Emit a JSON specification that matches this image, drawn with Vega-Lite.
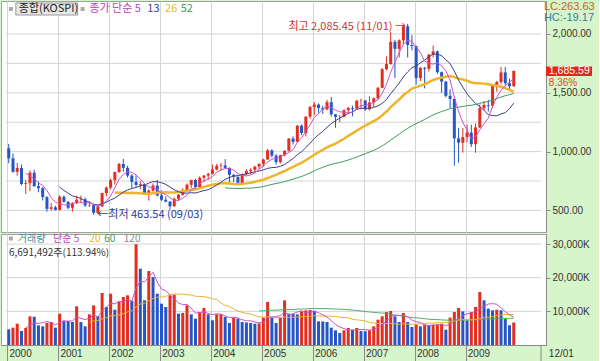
{
"$schema": "https://vega.github.io/schema/vega-lite/v6.json",
"background": "#d7f5cb",
"padding": {"left": 0, "top": 0, "right": 3, "bottom": 0},
"spacing": 0,
"config": {
  "view": {"fill": "white", "stroke": "#a0a0a0"},
  "axis": {"gridColor": "#d4d4d4", "gridOpacity": 1, "labelFont": "Liberation Sans", "labelFontSize": 10, "labelColor": "#333", "domainColor": "#8a8a8a", "tickColor": "#8a8a8a"},
  "text": {"font": "Noto Sans CJK KR"}
},
"datasets": {"k": [
{"i":0,"o":1028,"h":1066,"l":901,"c":943,"v":4660},
{"i":1,"o":943,"h":985,"l":820,"c":828,"v":5150},
{"i":2,"o":830,"h":905,"l":795,"c":861,"v":6340},
{"i":3,"o":861,"h":891,"l":714,"c":725,"v":4160},
{"i":4,"o":725,"h":760,"l":640,"c":732,"v":5050},
{"i":5,"o":732,"h":840,"l":665,"c":821,"v":8520},
{"i":6,"o":821,"h":846,"l":701,"c":706,"v":8400},
{"i":7,"o":706,"h":745,"l":655,"c":689,"v":5850},
{"i":8,"o":689,"h":700,"l":585,"c":613,"v":5550},
{"i":9,"o":613,"h":622,"l":490,"c":514,"v":6540},
{"i":10,"o":514,"h":565,"l":500,"c":527,"v":6840},
{"i":11,"o":527,"h":540,"l":500,"c":505,"v":5150},
{"i":12,"o":505,"h":630,"l":500,"c":616,"v":9320},
{"i":13,"o":616,"h":627,"l":565,"c":573,"v":7300},
{"i":14,"o":573,"h":580,"l":510,"c":523,"v":7100},
{"i":15,"o":523,"h":570,"l":490,"c":561,"v":6840},
{"i":16,"o":561,"h":625,"l":555,"c":591,"v":11500},
{"i":17,"o":591,"h":626,"l":570,"c":595,"v":6840},
{"i":18,"o":595,"h":610,"l":530,"c":542,"v":5550},
{"i":19,"o":542,"h":580,"l":530,"c":545,"v":9120},
{"i":20,"o":545,"h":550,"l":463.54,"c":480,"v":11790},
{"i":21,"o":480,"h":540,"l":470,"c":535,"v":8520},
{"i":22,"o":535,"h":650,"l":530,"c":648,"v":15460},
{"i":23,"o":648,"h":705,"l":620,"c":694,"v":11300},
{"i":24,"o":694,"h":770,"l":680,"c":758,"v":15260},
{"i":25,"o":758,"h":830,"l":720,"c":826,"v":10500},
{"i":26,"o":826,"h":905,"l":820,"c":895,"v":12780},
{"i":27,"o":895,"h":937.6,"l":830,"c":862,"v":14270},
{"i":28,"o":862,"h":880,"l":780,"c":796,"v":14770},
{"i":29,"o":796,"h":810,"l":690,"c":743,"v":13080},
{"i":30,"o":743,"h":800,"l":700,"c":717,"v":29940},
{"i":31,"o":717,"h":750,"l":680,"c":724,"v":22690},
{"i":32,"o":724,"h":727,"l":640,"c":646,"v":13280},
{"i":33,"o":646,"h":680,"l":584,"c":668,"v":22000},
{"i":34,"o":668,"h":730,"l":660,"c":712,"v":20220},
{"i":35,"o":712,"h":760,"l":620,"c":628,"v":15260},
{"i":36,"o":628,"h":670,"l":580,"c":591,"v":12290},
{"i":37,"o":591,"h":620,"l":570,"c":575,"v":11300},
{"i":38,"o":575,"h":580,"l":512,"c":536,"v":14770},
{"i":39,"o":536,"h":610,"l":530,"c":599,"v":14960},
{"i":40,"o":599,"h":640,"l":580,"c":633,"v":9320},
{"i":41,"o":633,"h":690,"l":625,"c":670,"v":9510},
{"i":42,"o":670,"h":730,"l":665,"c":718,"v":11790},
{"i":43,"o":718,"h":760,"l":690,"c":759,"v":9120},
{"i":44,"o":759,"h":770,"l":680,"c":698,"v":7830},
{"i":45,"o":698,"h":790,"l":690,"c":778,"v":9810},
{"i":46,"o":778,"h":800,"l":745,"c":797,"v":11000},
{"i":47,"o":797,"h":820,"l":760,"c":811,"v":9120},
{"i":48,"o":811,"h":890,"l":805,"c":848,"v":7340},
{"i":49,"o":848,"h":895,"l":840,"c":880,"v":9120},
{"i":50,"o":880,"h":905,"l":840,"c":883,"v":9200},
{"i":51,"o":883,"h":936,"l":860,"c":862,"v":8320},
{"i":52,"o":862,"h":865,"l":730,"c":803,"v":6540},
{"i":53,"o":803,"h":810,"l":740,"c":786,"v":8130},
{"i":54,"o":786,"h":790,"l":720,"c":735,"v":7830},
{"i":55,"o":735,"h":815,"l":730,"c":809,"v":6840},
{"i":56,"o":809,"h":850,"l":800,"c":835,"v":6700},
{"i":57,"o":835,"h":860,"l":810,"c":845,"v":6540},
{"i":58,"o":845,"h":880,"l":830,"c":872,"v":6340},
{"i":59,"o":872,"h":900,"l":850,"c":896,"v":6450},
{"i":60,"o":896,"h":940,"l":870,"c":933,"v":8130},
{"i":61,"o":933,"h":1022,"l":930,"c":1011,"v":12780},
{"i":62,"o":1011,"h":1020,"l":950,"c":966,"v":8130},
{"i":63,"o":966,"h":980,"l":890,"c":911,"v":6540},
{"i":64,"o":911,"h":975,"l":900,"c":970,"v":8130},
{"i":65,"o":970,"h":1010,"l":960,"c":1008,"v":13280},
{"i":66,"o":1008,"h":1115,"l":1000,"c":1111,"v":9300},
{"i":67,"o":1111,"h":1130,"l":1060,"c":1083,"v":9200},
{"i":68,"o":1083,"h":1225,"l":1080,"c":1221,"v":9100},
{"i":69,"o":1221,"h":1230,"l":1140,"c":1158,"v":10000},
{"i":70,"o":1158,"h":1300,"l":1130,"c":1297,"v":10300},
{"i":71,"o":1297,"h":1390,"l":1280,"c":1379,"v":10400},
{"i":72,"o":1379,"h":1421,"l":1310,"c":1400,"v":10200},
{"i":73,"o":1400,"h":1410,"l":1330,"c":1371,"v":7040},
{"i":74,"o":1371,"h":1390,"l":1320,"c":1359,"v":7000},
{"i":75,"o":1359,"h":1440,"l":1350,"c":1420,"v":6840},
{"i":76,"o":1420,"h":1465,"l":1300,"c":1317,"v":5150},
{"i":77,"o":1317,"h":1320,"l":1203,"c":1295,"v":4360},
{"i":78,"o":1295,"h":1310,"l":1250,"c":1297,"v":3570},
{"i":79,"o":1297,"h":1360,"l":1290,"c":1352,"v":4360},
{"i":80,"o":1352,"h":1380,"l":1320,"c":1371,"v":5050},
{"i":81,"o":1371,"h":1390,"l":1300,"c":1364,"v":4560},
{"i":82,"o":1364,"h":1440,"l":1355,"c":1432,"v":5050},
{"i":83,"o":1432,"h":1450,"l":1360,"c":1434,"v":4160},
{"i":84,"o":1434,"h":1440,"l":1345,"c":1360,"v":4100},
{"i":85,"o":1360,"h":1470,"l":1350,"c":1417,"v":4360},
{"i":86,"o":1417,"h":1460,"l":1380,"c":1453,"v":5550},
{"i":87,"o":1453,"h":1550,"l":1440,"c":1542,"v":7530},
{"i":88,"o":1542,"h":1710,"l":1540,"c":1700,"v":8520},
{"i":89,"o":1700,"h":1810,"l":1690,"c":1744,"v":9810},
{"i":90,"o":1744,"h":2015,"l":1740,"c":1933,"v":10100},
{"i":91,"o":1933,"h":1950,"l":1626,"c":1873,"v":8520},
{"i":92,"o":1873,"h":1955,"l":1800,"c":1946,"v":6840},
{"i":93,"o":1946,"h":2065,"l":1910,"c":2065,"v":9510},
{"i":94,"o":2065,"h":2085.45,"l":1800,"c":1906,"v":6840},
{"i":95,"o":1906,"h":1990,"l":1860,"c":1897,"v":5350},
{"i":96,"o":1897,"h":1900,"l":1570,"c":1625,"v":6140},
{"i":97,"o":1625,"h":1720,"l":1600,"c":1712,"v":5550},
{"i":98,"o":1712,"h":1720,"l":1537,"c":1704,"v":6040},
{"i":99,"o":1704,"h":1830,"l":1680,"c":1825,"v":5850},
{"i":100,"o":1825,"h":1901,"l":1800,"c":1852,"v":6040},
{"i":101,"o":1852,"h":1860,"l":1660,"c":1675,"v":6140},
{"i":102,"o":1675,"h":1680,"l":1500,"c":1595,"v":6340},
{"i":103,"o":1595,"h":1600,"l":1460,"c":1474,"v":4560},
{"i":104,"o":1474,"h":1530,"l":1370,"c":1448,"v":8130},
{"i":105,"o":1448,"h":1460,"l":880,"c":1113,"v":9810},
{"i":106,"o":1113,"h":1200,"l":905,"c":1076,"v":11000},
{"i":107,"o":1076,"h":1200,"l":991,"c":1124,"v":10000},
{"i":108,"o":1124,"h":1230,"l":1080,"c":1162,"v":7340},
{"i":109,"o":1162,"h":1230,"l":1040,"c":1063,"v":9810},
{"i":110,"o":1063,"h":1240,"l":990,"c":1206,"v":11300},
{"i":111,"o":1206,"h":1400,"l":1200,"c":1369,"v":15760},
{"i":112,"o":1369,"h":1430,"l":1350,"c":1396,"v":13280},
{"i":113,"o":1396,"h":1440,"l":1340,"c":1390,"v":10800},
{"i":114,"o":1390,"h":1560,"l":1370,"c":1557,"v":10300},
{"i":115,"o":1557,"h":1600,"l":1510,"c":1592,"v":10500},
{"i":116,"o":1592,"h":1720,"l":1570,"c":1673,"v":10300},
{"i":117,"o":1673,"h":1720,"l":1560,"c":1581,"v":7830},
{"i":118,"o":1581,"h":1620,"l":1520,"c":1556,"v":5873},
{"i":119,"o":1556,"h":1690,"l":1550,"c":1685.59,"v":6691}
]},
"vconcat": [
{
  "width": 545, "height": 231,
  "data": {"name": "k"},
  "encoding": {"x": {"field": "i", "type": "quantitative", "scale": {"domain": [-0.648, 125.42], "nice": false, "zero": false},
    "axis": {"values": [-0.3, 11.7, 23.7, 35.7, 47.7, 59.7, 71.7, 83.7, 95.7, 107.7], "labels": false, "ticks": false, "domain": false, "grid": true, "title": null, "minExtent": 0, "maxExtent": 0, "labelPadding": 0}}},
  "layer": [
    {"transform": [{"filter": "datum.i == 119"}], "mark": {"type": "rule", "color": "#d4d4d4", "strokeWidth": 1}, "encoding": {"x": {"datum": -0.648, "type": "quantitative"}, "x2": {"datum": 125.42}, "y": {"datum": 500, "type": "quantitative"}, "y2": {"datum": 500}}},
    {"transform": [{"filter": "datum.i == 119"}], "mark": {"type": "rule", "color": "#d4d4d4", "strokeWidth": 1}, "encoding": {"x": {"datum": -0.648, "type": "quantitative"}, "x2": {"datum": 125.42}, "y": {"datum": 750, "type": "quantitative"}, "y2": {"datum": 750}}},
    {"transform": [{"filter": "datum.i == 119"}], "mark": {"type": "rule", "color": "#d4d4d4", "strokeWidth": 1}, "encoding": {"x": {"datum": -0.648, "type": "quantitative"}, "x2": {"datum": 125.42}, "y": {"datum": 1000, "type": "quantitative"}, "y2": {"datum": 1000}}},
    {"transform": [{"filter": "datum.i == 119"}], "mark": {"type": "rule", "color": "#d4d4d4", "strokeWidth": 1}, "encoding": {"x": {"datum": -0.648, "type": "quantitative"}, "x2": {"datum": 125.42}, "y": {"datum": 1250, "type": "quantitative"}, "y2": {"datum": 1250}}},
    {"transform": [{"filter": "datum.i == 119"}], "mark": {"type": "rule", "color": "#d4d4d4", "strokeWidth": 1}, "encoding": {"x": {"datum": -0.648, "type": "quantitative"}, "x2": {"datum": 125.42}, "y": {"datum": 1500, "type": "quantitative"}, "y2": {"datum": 1500}}},
    {"transform": [{"filter": "datum.i == 119"}], "mark": {"type": "rule", "color": "#d4d4d4", "strokeWidth": 1}, "encoding": {"x": {"datum": -0.648, "type": "quantitative"}, "x2": {"datum": 125.42}, "y": {"datum": 1750, "type": "quantitative"}, "y2": {"datum": 1750}}},
    {"transform": [{"filter": "datum.i == 119"}], "mark": {"type": "rule", "color": "#d4d4d4", "strokeWidth": 1}, "encoding": {"x": {"datum": -0.648, "type": "quantitative"}, "x2": {"datum": 125.42}, "y": {"datum": 2000, "type": "quantitative"}, "y2": {"datum": 2000}}},
    {"mark": {"type": "rule", "strokeWidth": 1},
     "encoding": {
       "y": {"field": "l", "type": "quantitative", "scale": {"domain": [317, 2280], "nice": false, "zero": false},
         "axis": {"orient": "right", "values": [500, 750, 1000, 1250, 1500, 1750, 2000], "format": ",.2f", "grid": false, "tickSize": 4, "labelPadding": 2, "title": null}},
       "y2": {"field": "h"},
       "color": {"condition": {"test": "datum.c >= datum.o", "value": "#e22d1f"}, "value": "#2456c8"}}},
    {"mark": {"type": "bar", "size": 3},
     "encoding": {
       "y": {"field": "o", "type": "quantitative"},
       "y2": {"field": "c"},
       "color": {"condition": {"test": "datum.c >= datum.o", "value": "#e22d1f"}, "value": "#2456c8"}}},
    {"transform": [{"window": [{"op": "mean", "field": "c", "as": "ma"}, {"op": "count", "as": "n"}], "frame": [-51, 0], "sort": [{"field": "i"}]}, {"filter": "datum.n >= 52"}],
     "mark": {"type": "line", "color": "#3f9a5c", "strokeWidth": 1},
     "encoding": {"y": {"field": "ma", "type": "quantitative"}}},
    {"transform": [{"window": [{"op": "mean", "field": "c", "as": "ma"}, {"op": "count", "as": "n"}], "frame": [-25, 0], "sort": [{"field": "i"}]}, {"filter": "datum.n >= 26"}],
     "mark": {"type": "line", "color": "#efb52a", "strokeWidth": 2.5},
     "encoding": {"y": {"field": "ma", "type": "quantitative"}}},
    {"transform": [{"window": [{"op": "mean", "field": "c", "as": "ma"}, {"op": "count", "as": "n"}], "frame": [-12, 0], "sort": [{"field": "i"}]}, {"filter": "datum.n >= 13"}],
     "mark": {"type": "line", "color": "#34438f", "strokeWidth": 1},
     "encoding": {"y": {"field": "ma", "type": "quantitative"}}},
    {"transform": [{"window": [{"op": "mean", "field": "c", "as": "ma"}, {"op": "count", "as": "n"}], "frame": [-4, 0], "sort": [{"field": "i"}]}, {"filter": "datum.n >= 5"}],
     "mark": {"type": "line", "color": "#cf4fcf", "strokeWidth": 1},
     "encoding": {"y": {"field": "ma", "type": "quantitative"}}},
    {"transform": [{"filter": "datum.i == 119"}], "mark": {"type": "point", "shape": "square", "filled": true, "size": 16, "color": "#aaaaaa", "opacity": 1},
     "encoding": {"x": {"datum": 0.51, "type": "quantitative"}, "y": {"datum": 2212, "type": "quantitative"}}},
    {"transform": [{"filter": "datum.i == 119"}], "mark": {"type": "rect", "fill": "#e6e6e6", "stroke": "#9a9a9a", "strokeWidth": 1},
     "encoding": {"x": {"datum": 1.665, "type": "quantitative"}, "x2": {"datum": 16.24}, "y": {"datum": 2161, "type": "quantitative"}, "y2": {"datum": 2263}}},
    {"transform": [{"filter": "datum.i == 119"}], "mark": {"type": "text", "text": "종합(KOSPI)", "align": "left", "baseline": "middle", "fontSize": 11, "color": "#222222"},
     "encoding": {"x": {"datum": 2.36, "type": "quantitative"}, "y": {"datum": 2212, "type": "quantitative"}}},
    {"transform": [{"filter": "datum.i == 119"}], "mark": {"type": "point", "shape": "square", "filled": true, "size": 16, "color": "#aaaaaa", "opacity": 1},
     "encoding": {"x": {"datum": 17.4, "type": "quantitative"}, "y": {"datum": 2212, "type": "quantitative"}}},
    {"transform": [{"filter": "datum.i == 119"}], "mark": {"type": "text", "text": "종가 단순 5", "align": "left", "baseline": "middle", "fontSize": 11, "color": "#c13ec1"},
     "encoding": {"x": {"datum": 19.0, "type": "quantitative"}, "y": {"datum": 2212, "type": "quantitative"}}},
    {"transform": [{"filter": "datum.i == 119"}], "mark": {"type": "text", "text": "13", "align": "left", "baseline": "middle", "fontSize": 11, "color": "#34438f"},
     "encoding": {"x": {"datum": 32.66, "type": "quantitative"}, "y": {"datum": 2212, "type": "quantitative"}}},
    {"transform": [{"filter": "datum.i == 119"}], "mark": {"type": "text", "text": "26", "align": "left", "baseline": "middle", "fontSize": 11, "color": "#e6b830"},
     "encoding": {"x": {"datum": 36.83, "type": "quantitative"}, "y": {"datum": 2212, "type": "quantitative"}}},
    {"transform": [{"filter": "datum.i == 119"}], "mark": {"type": "text", "text": "52", "align": "left", "baseline": "middle", "fontSize": 11, "color": "#3f9a5c"},
     "encoding": {"x": {"datum": 40.53, "type": "quantitative"}, "y": {"datum": 2212, "type": "quantitative"}}},
    {"transform": [{"filter": "datum.i == 119"}], "mark": {"type": "text", "text": "최고 2,085.45 (11/01) →", "align": "right", "baseline": "middle", "fontSize": 11, "color": "#d32f2f"},
     "encoding": {"x": {"datum": 93.6, "type": "quantitative"}, "y": {"datum": 2059, "type": "quantitative"}}},
    {"transform": [{"filter": "datum.i == 119"}], "mark": {"type": "text", "text": "←최저 463.54 (09/03)", "align": "left", "baseline": "middle", "fontSize": 11, "color": "#2b3aa0"},
     "encoding": {"x": {"datum": 20.86, "type": "quantitative"}, "y": {"datum": 461, "type": "quantitative"}}},
    {"transform": [{"filter": "datum.i == 119"}], "mark": {"type": "text", "text": "LC:263.63", "align": "left", "baseline": "middle", "fontSize": 11, "font": "Liberation Sans", "color": "#c0641e"},
     "encoding": {"x": {"datum": 126.1, "type": "quantitative"}, "y": {"datum": 2229, "type": "quantitative"}}},
    {"transform": [{"filter": "datum.i == 119"}], "mark": {"type": "text", "text": "HC:-19.17", "align": "left", "baseline": "middle", "fontSize": 11, "font": "Liberation Sans", "color": "#2c80a8"},
     "encoding": {"x": {"datum": 126.1, "type": "quantitative"}, "y": {"datum": 2135, "type": "quantitative"}}},
    {"transform": [{"filter": "datum.i == 119"}], "mark": {"type": "rect", "fill": "#e0281c"},
     "encoding": {"x": {"datum": 126.58, "type": "quantitative"}, "x2": {"datum": 137.45}, "y": {"datum": 1642.6, "type": "quantitative"}, "y2": {"datum": 1723.4}}},
    {"transform": [{"filter": "datum.i == 119"}], "mark": {"type": "text", "text": "1,685.59", "align": "left", "baseline": "middle", "fontSize": 10.5, "font": "Liberation Sans", "color": "#ffffff"},
     "encoding": {"x": {"datum": 127.27, "type": "quantitative"}, "y": {"datum": 1683, "type": "quantitative"}}},
    {"transform": [{"filter": "datum.i == 119"}], "mark": {"type": "text", "text": "8.36%", "align": "left", "baseline": "middle", "fontSize": 10, "font": "Liberation Sans", "color": "#d8501c"},
     "encoding": {"x": {"datum": 127.27, "type": "quantitative"}, "y": {"datum": 1580, "type": "quantitative"}}}
  ]
},
{
  "width": 545, "height": 111,
  "data": {"name": "k"},
  "encoding": {"x": {"field": "i", "type": "quantitative", "scale": {"domain": [-0.648, 125.42], "nice": false, "zero": false},
    "axis": {"values": [-0.3, 11.7, 23.7, 35.7, 47.7, 59.7, 71.7, 83.7, 95.7, 107.7], "labelExpr": "'' + (2000 + round((datum.value + 0.3) / 12))", "grid": true, "tickSize": 18, "labelAlign": "left", "labelBaseline": "top", "labelPadding": -15, "labelOffset": 1.5, "labelFontSize": 10, "title": null}}},
  "layer": [
    {"transform": [{"filter": "datum.i == 119"}], "mark": {"type": "rule", "color": "#d4d4d4", "strokeWidth": 1}, "encoding": {"x": {"datum": -0.648, "type": "quantitative"}, "x2": {"datum": 125.42}, "y": {"datum": 10000, "type": "quantitative"}, "y2": {"datum": 10000}}},
    {"transform": [{"filter": "datum.i == 119"}], "mark": {"type": "rule", "color": "#d4d4d4", "strokeWidth": 1}, "encoding": {"x": {"datum": -0.648, "type": "quantitative"}, "x2": {"datum": 125.42}, "y": {"datum": 20000, "type": "quantitative"}, "y2": {"datum": 20000}}},
    {"transform": [{"filter": "datum.i == 119"}], "mark": {"type": "rule", "color": "#d4d4d4", "strokeWidth": 1}, "encoding": {"x": {"datum": -0.648, "type": "quantitative"}, "x2": {"datum": 125.42}, "y": {"datum": 30000, "type": "quantitative"}, "y2": {"datum": 30000}}},
    {"transform": [{"window": [{"op": "lag", "field": "v", "as": "pv"}], "sort": [{"field": "i"}]}],
     "mark": {"type": "bar", "size": 3},
     "encoding": {
       "y": {"field": "v", "type": "quantitative", "scale": {"domain": [0, 33000], "nice": false},
         "axis": {"orient": "right", "values": [10000, 20000, 30000], "labelExpr": "format(datum.value, ',') + 'K'", "grid": false, "tickSize": 4, "labelPadding": 2, "title": null}},
       "color": {"condition": {"test": "datum.pv != null && datum.v > datum.pv", "value": "#e22d1f"}, "value": "#2456c8"}}},
    {"transform": [{"window": [{"op": "mean", "field": "v", "as": "ma"}, {"op": "count", "as": "n"}], "frame": [-59, 0], "sort": [{"field": "i"}]}, {"filter": "datum.n >= 60"}],
     "mark": {"type": "line", "color": "#4caf6a", "strokeWidth": 1},
     "encoding": {"y": {"field": "ma", "type": "quantitative"}}},
    {"transform": [{"window": [{"op": "mean", "field": "v", "as": "ma"}, {"op": "count", "as": "n"}], "frame": [-19, 0], "sort": [{"field": "i"}]}, {"filter": "datum.n >= 20"}],
     "mark": {"type": "line", "color": "#e8b530", "strokeWidth": 1},
     "encoding": {"y": {"field": "ma", "type": "quantitative"}}},
    {"transform": [{"window": [{"op": "mean", "field": "v", "as": "ma"}, {"op": "count", "as": "n"}], "frame": [-4, 0], "sort": [{"field": "i"}]}, {"filter": "datum.n >= 5"}],
     "mark": {"type": "line", "color": "#cf4fcf", "strokeWidth": 1},
     "encoding": {"y": {"field": "ma", "type": "quantitative"}}},
    {"transform": [{"filter": "datum.i == 119"}], "mark": {"type": "point", "shape": "square", "filled": true, "size": 16, "color": "#aaaaaa", "opacity": 1},
     "encoding": {"x": {"datum": 0.51, "type": "quantitative"}, "y": {"datum": 31662, "type": "quantitative"}}},
    {"transform": [{"filter": "datum.i == 119"}], "mark": {"type": "text", "text": "거래량", "align": "left", "baseline": "middle", "fontSize": 10, "color": "#3a8fa6"},
     "encoding": {"x": {"datum": 2.13, "type": "quantitative"}, "y": {"datum": 31662, "type": "quantitative"}}},
    {"transform": [{"filter": "datum.i == 119"}], "mark": {"type": "text", "text": "단순 5", "align": "left", "baseline": "middle", "fontSize": 10, "color": "#c13ec1"},
     "encoding": {"x": {"datum": 10.45, "type": "quantitative"}, "y": {"datum": 31662, "type": "quantitative"}}},
    {"transform": [{"filter": "datum.i == 119"}], "mark": {"type": "text", "text": "20", "align": "left", "baseline": "middle", "fontSize": 10, "color": "#e6b830"},
     "encoding": {"x": {"datum": 19.01, "type": "quantitative"}, "y": {"datum": 31662, "type": "quantitative"}}},
    {"transform": [{"filter": "datum.i == 119"}], "mark": {"type": "text", "text": "60", "align": "left", "baseline": "middle", "fontSize": 10, "color": "#3f9a5c"},
     "encoding": {"x": {"datum": 22.48, "type": "quantitative"}, "y": {"datum": 31662, "type": "quantitative"}}},
    {"transform": [{"filter": "datum.i == 119"}], "mark": {"type": "text", "text": "120", "align": "left", "baseline": "middle", "fontSize": 10, "color": "#8a8a8a"},
     "encoding": {"x": {"datum": 27.11, "type": "quantitative"}, "y": {"datum": 31662, "type": "quantitative"}}},
    {"transform": [{"filter": "datum.i == 119"}], "mark": {"type": "text", "text": "6,691,492주(113.94%)", "align": "left", "baseline": "middle", "fontSize": 10, "color": "#333333"},
     "encoding": {"x": {"datum": 0.05, "type": "quantitative"}, "y": {"datum": 27351, "type": "quantitative"}}},
    {"transform": [{"filter": "datum.i == 119"}], "mark": {"type": "rule", "color": "#8a8a8a", "strokeWidth": 1},
     "encoding": {"x": {"datum": 125.42, "type": "quantitative"}, "y": {"datum": 0, "type": "quantitative"}, "y2": {"datum": -5450}}},
    {"transform": [{"filter": "datum.i == 119"}], "mark": {"type": "text", "text": "12/01", "align": "left", "baseline": "middle", "fontSize": 10, "font": "Liberation Sans", "color": "#333333"},
     "encoding": {"x": {"datum": 127.27, "type": "quantitative"}, "y": {"datum": -2676, "type": "quantitative"}}}
  ]
}
]
}
